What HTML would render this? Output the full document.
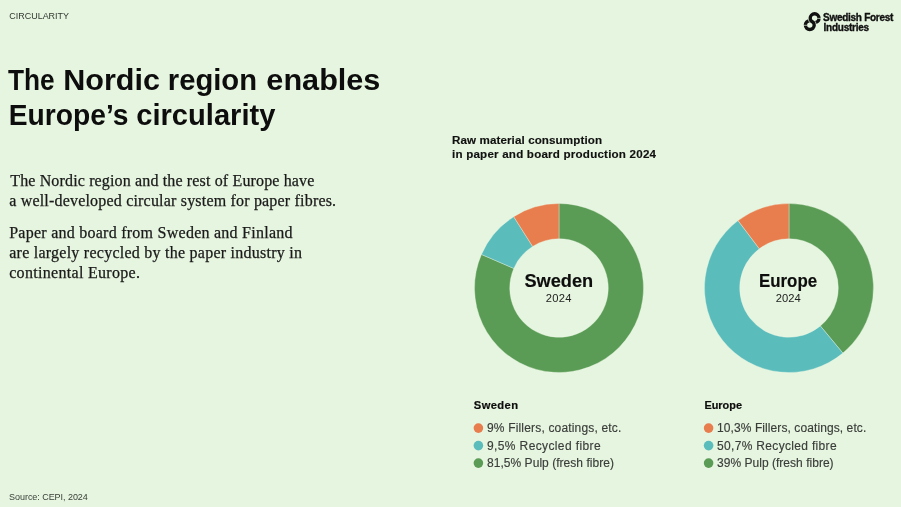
<!DOCTYPE html>
<html><head><meta charset="utf-8">
<style>
html,body{margin:0;padding:0;}
body{width:901px;height:507px;overflow:hidden;background:#e6f5df;}
svg{display:block;}
.sans{font-family:"Liberation Sans",sans-serif;}
.serif{font-family:"Liberation Serif",serif;}
</style></head>
<body>
<svg width="901" height="507" viewBox="0 0 901 507">
<rect width="901" height="507" fill="#e6f5df"/>
<g fill="none" stroke="#111" stroke-width="3.4">
<circle cx="814.6" cy="18.2" r="4.4"/>
<circle cx="809.8" cy="25.1" r="4.4"/>
</g>
<g stroke="#e6f5df" stroke-width="0.7" fill="none">
<line x1="817.2" y1="18.4" x2="821.4" y2="18.4"/>
<line x1="803" y1="25.3" x2="807.2" y2="25.3"/>
<path d="M813.05,19.47A6.5,6.5 0 0 1 816.28,24.53"/>
<path d="M811.35,23.83A6.5,6.5 0 0 1 808.12,18.77"/>
</g>
<g stroke="#eef8e9" stroke-width="0.6" stroke-opacity="0.6">
<path d="M559.00,203.50A84.5,84.5 0 1 1 481.45,254.44L513.80,268.44A49.25,49.25 0 1 0 559.00,238.75Z" fill="#5a9b55"/>
<path d="M481.45,254.44A84.5,84.5 0 0 1 513.72,216.66L532.61,246.42A49.25,49.25 0 0 0 513.80,268.44Z" fill="#5bbcbc"/>
<path d="M513.72,216.65A84.5,84.5 0 0 1 559.00,203.50L559.00,238.75A49.25,49.25 0 0 0 532.61,246.42Z" fill="#e87d4e"/>
<path d="M789.00,203.50A84.5,84.5 0 0 1 842.86,353.11L820.39,325.95A49.25,49.25 0 0 0 789.00,238.75Z" fill="#5a9b55"/>
<path d="M842.86,353.11A84.5,84.5 0 1 1 738.05,220.59L759.31,248.71A49.25,49.25 0 1 0 820.39,325.95Z" fill="#5bbcbc"/>
<path d="M738.05,220.59A84.5,84.5 0 0 1 789.00,203.50L789.00,238.75A49.25,49.25 0 0 0 759.31,248.71Z" fill="#e87d4e"/>
</g>
<circle cx="478.4" cy="428.1" r="4.8" fill="#e87d4e"/>
<circle cx="478.4" cy="445.6" r="4.8" fill="#5bbcbc"/>
<circle cx="478.4" cy="463.1" r="4.8" fill="#5a9b55"/>
<circle cx="708.6" cy="428.1" r="4.8" fill="#e87d4e"/>
<circle cx="708.6" cy="445.6" r="4.8" fill="#5bbcbc"/>
<circle cx="708.6" cy="463.1" r="4.8" fill="#5a9b55"/>
<text class="sans" x="9.20" y="19.2" textLength="59.89" lengthAdjust="spacingAndGlyphs" font-size="9.6" fill="#333833">CIRCULARITY</text>
<text class="sans" x="823.04" y="21.3" textLength="70.38" lengthAdjust="spacing" font-size="10" font-weight="bold" stroke="#111" stroke-width="0.35" fill="#111">Swedish Forest</text>
<text class="sans" x="823.60" y="30.8" textLength="45.40" lengthAdjust="spacing" font-size="10" font-weight="bold" stroke="#111" stroke-width="0.35" fill="#111">Industries</text>
<text class="sans" x="8.05" y="89.5" textLength="46.68" lengthAdjust="spacingAndGlyphs" font-size="29" font-weight="bold" fill="#0d0d0d">The</text>
<text class="sans" x="63.20" y="89.5" textLength="96.78" lengthAdjust="spacingAndGlyphs" font-size="29" font-weight="bold" fill="#0d0d0d">Nordic</text>
<text class="sans" x="167.80" y="89.5" textLength="89.23" lengthAdjust="spacingAndGlyphs" font-size="29" font-weight="bold" fill="#0d0d0d">region</text>
<text class="sans" x="266.39" y="89.5" textLength="114.01" lengthAdjust="spacingAndGlyphs" font-size="29" font-weight="bold" fill="#0d0d0d">enables</text>
<text class="sans" x="8.80" y="124.5" textLength="119.60" lengthAdjust="spacingAndGlyphs" font-size="29" font-weight="bold" fill="#0d0d0d">Europe’s</text>
<text class="sans" x="136.20" y="124.5" textLength="139.21" lengthAdjust="spacingAndGlyphs" font-size="29" font-weight="bold" fill="#0d0d0d">circularity</text>
<text class="serif" x="10.20" y="186.2" textLength="304.14" lengthAdjust="spacing" font-size="16" stroke="#1a1a1a" stroke-width="0.25" fill="#1a1a1a">The Nordic region and the rest of Europe have</text>
<text class="serif" x="9.20" y="206.3" textLength="326.92" lengthAdjust="spacing" font-size="16" stroke="#1a1a1a" stroke-width="0.25" fill="#1a1a1a">a well-developed circular system for paper fibres.</text>
<text class="serif" x="9.20" y="237.5" textLength="283.31" lengthAdjust="spacing" font-size="16" stroke="#1a1a1a" stroke-width="0.25" fill="#1a1a1a">Paper and board from Sweden and Finland</text>
<text class="serif" x="9.20" y="257.8" textLength="292.76" lengthAdjust="spacing" font-size="16" stroke="#1a1a1a" stroke-width="0.25" fill="#1a1a1a">are largely recycled by the paper industry in</text>
<text class="serif" x="9.20" y="277.9" textLength="130.80" lengthAdjust="spacing" font-size="16" stroke="#1a1a1a" stroke-width="0.25" fill="#1a1a1a">continental Europe.</text>
<text class="sans" x="452.00" y="144.4" textLength="150.00" lengthAdjust="spacing" font-size="11.6" font-weight="bold" stroke="#111" stroke-width="0.15" fill="#111">Raw material consumption</text>
<text class="sans" x="452.00" y="158.3" textLength="204.00" lengthAdjust="spacing" font-size="11.6" font-weight="bold" stroke="#111" stroke-width="0.15" fill="#111">in paper and board production 2024</text>
<text class="sans" x="524.49" y="287.3" textLength="68.69" lengthAdjust="spacingAndGlyphs" font-size="17.6" font-weight="bold" stroke="#0d0d0d" stroke-width="0.15" fill="#0d0d0d">Sweden</text>
<text class="sans" x="759.00" y="287.3" textLength="58.06" lengthAdjust="spacingAndGlyphs" font-size="17.6" font-weight="bold" stroke="#0d0d0d" stroke-width="0.15" fill="#0d0d0d">Europe</text>
<text class="sans" x="545.87" y="301.6" textLength="25.52" lengthAdjust="spacing" font-size="11.2" fill="#222">2024</text>
<text class="sans" x="775.67" y="301.6" textLength="25.11" lengthAdjust="spacing" font-size="11.2" fill="#222">2024</text>
<text class="sans" x="473.80" y="409.0" textLength="44.20" lengthAdjust="spacing" font-size="11.2" font-weight="bold" stroke="#0d0d0d" stroke-width="0.2" fill="#0d0d0d">Sweden</text>
<text class="sans" x="704.40" y="409.0" textLength="37.63" lengthAdjust="spacingAndGlyphs" font-size="11.2" font-weight="bold" stroke="#0d0d0d" stroke-width="0.2" fill="#0d0d0d">Europe</text>
<text class="sans" x="487.00" y="432.1" textLength="134.34" lengthAdjust="spacing" font-size="12" stroke="#3a3d3a" stroke-width="0.15" fill="#3a3d3a">9% Fillers, coatings, etc.</text>
<text class="sans" x="487.00" y="449.6" textLength="113.59" lengthAdjust="spacing" font-size="12" stroke="#3a3d3a" stroke-width="0.15" fill="#3a3d3a">9,5% Recycled fibre</text>
<text class="sans" x="487.00" y="467.1" textLength="127.00" lengthAdjust="spacing" font-size="12" stroke="#3a3d3a" stroke-width="0.15" fill="#3a3d3a">81,5% Pulp (fresh fibre)</text>
<text class="sans" x="717.00" y="432.1" textLength="149.23" lengthAdjust="spacing" font-size="12" stroke="#3a3d3a" stroke-width="0.15" fill="#3a3d3a">10,3% Fillers, coatings, etc.</text>
<text class="sans" x="717.00" y="449.6" textLength="119.59" lengthAdjust="spacing" font-size="12" stroke="#3a3d3a" stroke-width="0.15" fill="#3a3d3a">50,7% Recycled fibre</text>
<text class="sans" x="717.00" y="467.1" textLength="116.60" lengthAdjust="spacing" font-size="12" stroke="#3a3d3a" stroke-width="0.15" fill="#3a3d3a">39% Pulp (fresh fibre)</text>
<text class="sans" x="9.11" y="499.5" textLength="78.71" lengthAdjust="spacing" font-size="9" fill="#3a3f3a">Source: CEPI, 2024</text>
</svg>
</body></html>
